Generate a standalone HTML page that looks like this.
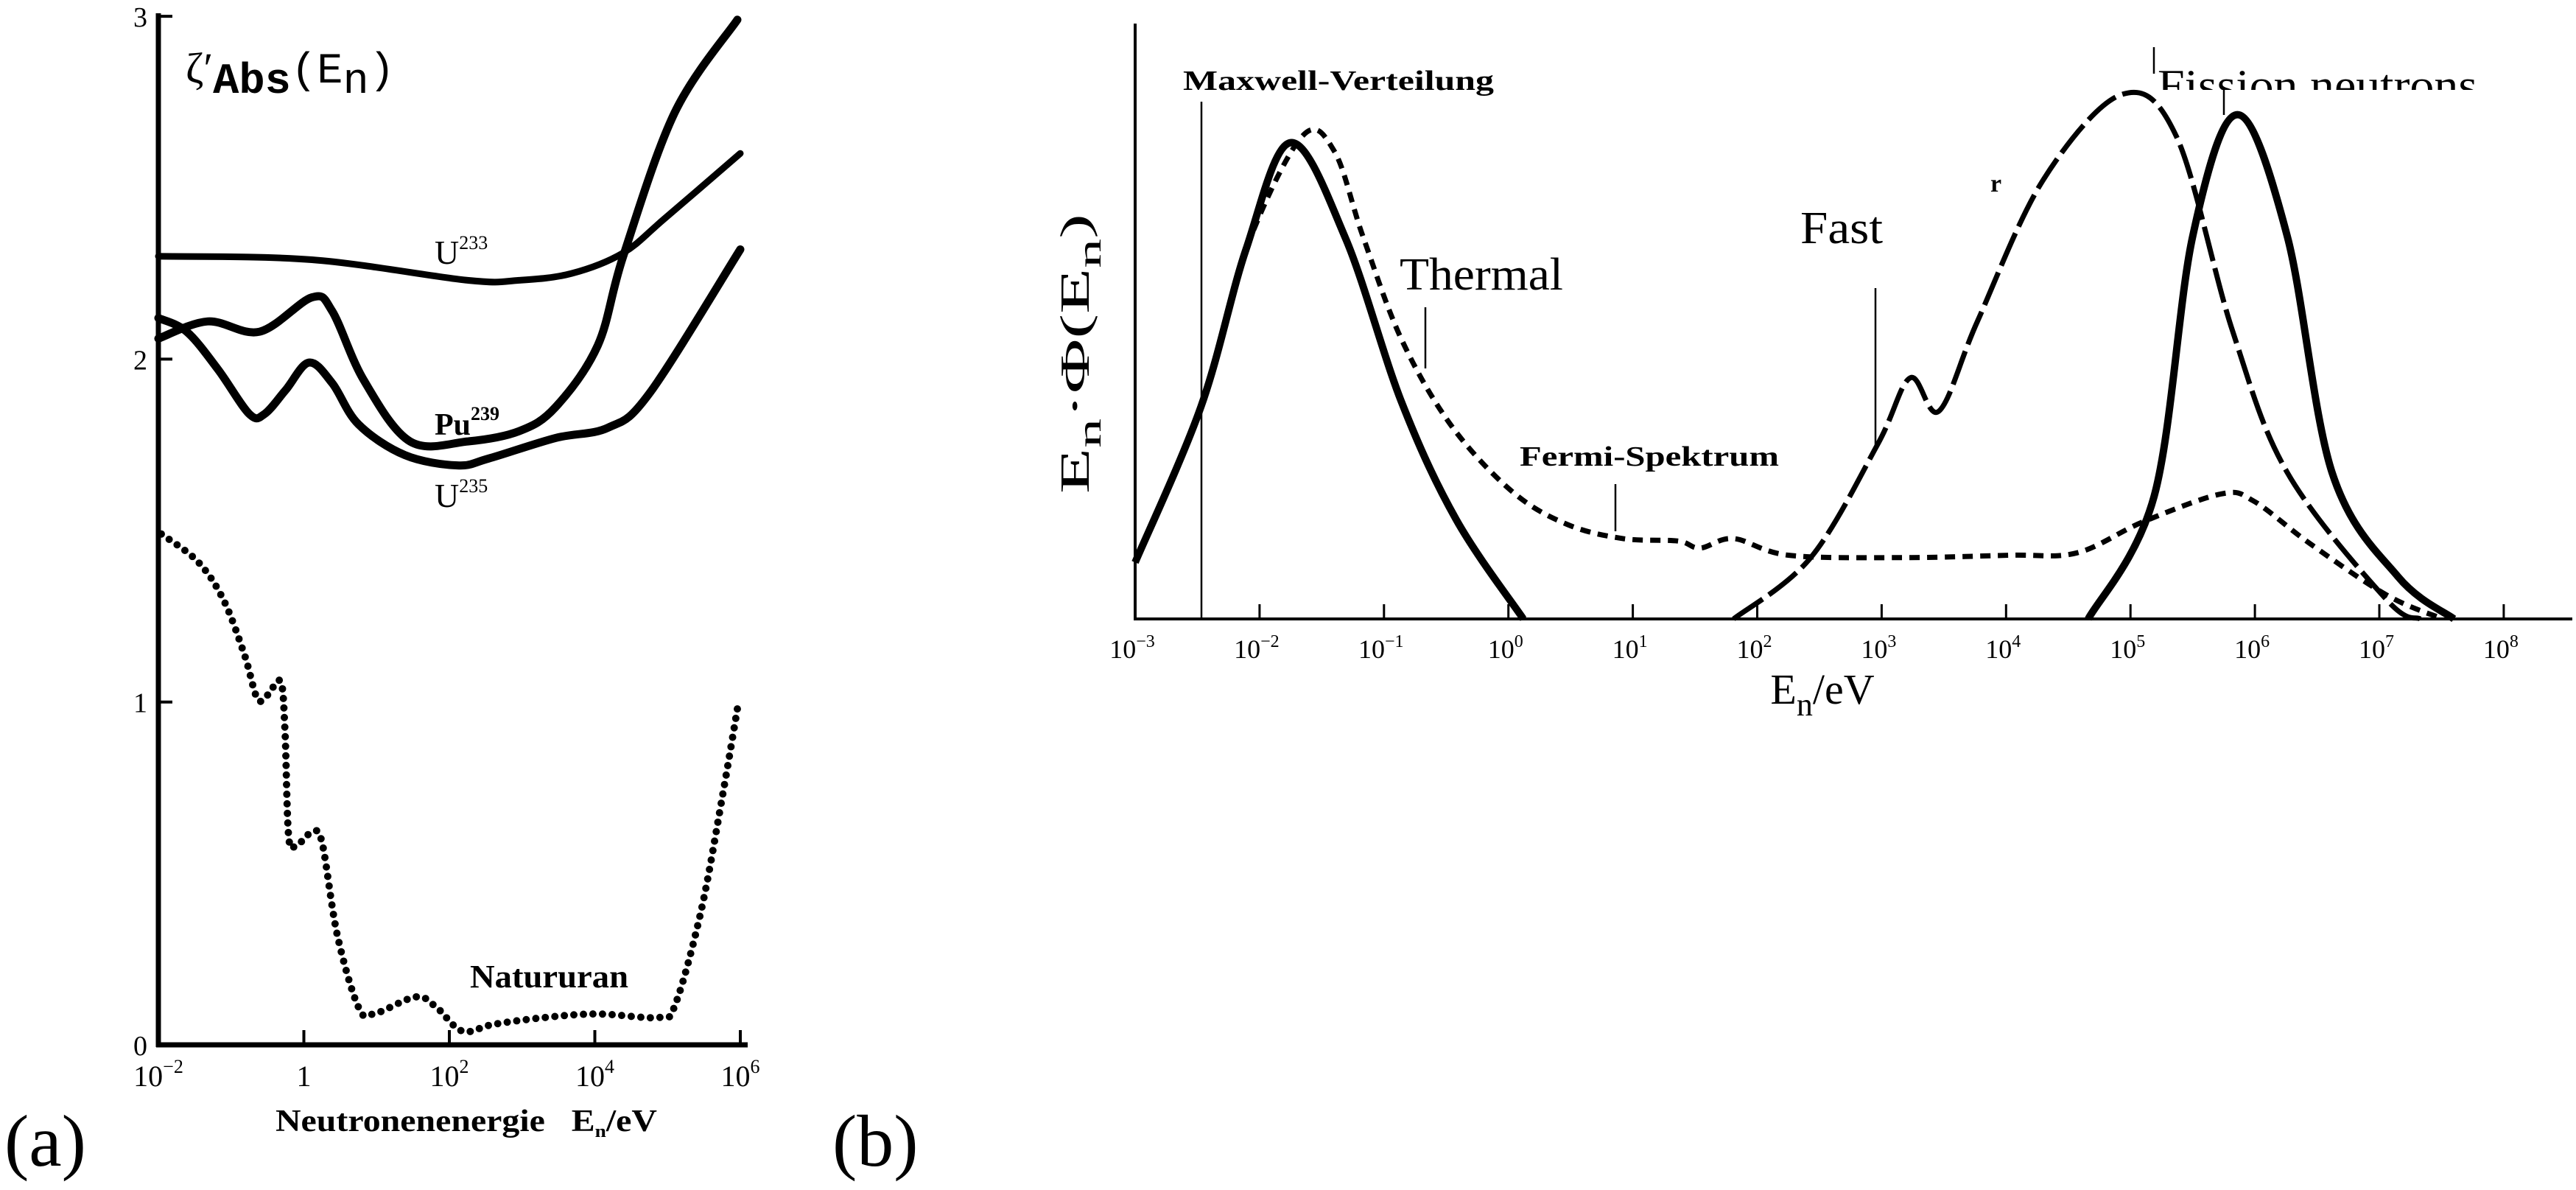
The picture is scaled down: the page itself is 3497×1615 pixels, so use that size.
<!DOCTYPE html>
<html><head><meta charset="utf-8"><style>
html,body{margin:0;padding:0;background:#fff;}
svg{display:block;}
text{font-family:"Liberation Serif",serif;fill:#000;}
</style></head><body>
<svg id="fig" width="3497" height="1615" viewBox="0 0 3497 1615" xmlns="http://www.w3.org/2000/svg">
<g id="pa"></g>
<g id="pb"></g>
</svg>
<script>
// ---- Panel (a) data: x = log10(E/eV), y = zeta'
const u233X=[-2,0.11,2.25,2.96,3.68,4.39,4.96,6];
const u233Y=[2.3,2.29,2.23,2.23,2.25,2.31,2.41,2.6];
const pu239X=[-2,-1.32,-0.61,0.11,0.39,0.82,1.46,2.25,2.96,3.46,4.04,4.39,5.1,5.96];
const pu239Y=[2.06,2.11,2.08,2.18,2.14,1.94,1.76,1.76,1.79,1.86,2.04,2.3,2.72,2.99];
const u235X=[-2,-1.61,-1.18,-0.75,-0.54,-0.25,0.07,0.39,0.75,1.39,2.11,2.54,3.46,4.18,4.75,6];
const u235Y=[2.12,2.08,1.97,1.84,1.84,1.91,1.99,1.93,1.81,1.72,1.69,1.71,1.77,1.8,1.9,2.32];
const natX=[-1.96,-1.46,-1.11,-0.82,-0.64,-0.5,-0.32,-0.26,-0.21,-0.11,0.11,0.25,0.46,0.75,0.96,1.54,1.82,2.18,2.61,3.32,4.04,4.89,5.11,5.46,5.75,5.96];
const natY=[1.49,1.41,1.3,1.14,1.01,1.02,1.06,0.92,0.61,0.58,0.62,0.59,0.32,0.11,0.09,0.14,0.11,0.04,0.06,0.08,0.09,0.08,0.12,0.39,0.72,0.98];
const aXTicks=[-2,0,2,4,6];
const aXLabels=["10","1","10","10","10"];
const aXSup=["−2","","2","4","6"];
const aYTicks=[0,1,2,3];
// ---- Panel (b) data: x = log10(E/eV), y = relative flux
const maxX=[-3,-2.47,-2.11,-1.75,-1.31,-0.86,-0.42,0.12];
const maxY=[0.095,0.357,0.62,0.80,0.64,0.365,0.167,0];
const thermX=[-3,-2.47,-2.11,-1.66,-1.40,-1.17,-0.86,-0.46,0.03,0.47,0.92,1.36,1.54,1.81,2.25,3.14,4.03,4.57,5.1,5.73,5.99,6.44,7.06,7.51];
const thermY=[0.095,0.36,0.62,0.81,0.786,0.643,0.47,0.325,0.214,0.159,0.135,0.131,0.119,0.135,0.107,0.103,0.107,0.111,0.163,0.21,0.198,0.127,0.04,0];
const fermiX=[1.81,2.43,2.97,3.23,3.46,3.77,4.3,4.93,5.37,5.82,6.26,7.06,7.33];
const fermiY=[0,0.103,0.294,0.405,0.349,0.5,0.738,0.881,0.81,0.484,0.246,0.032,0];
const fissX=[4.66,5.19,5.5,5.86,6.26,6.62,7.15,7.6];
const fissY=[0,0.206,0.643,0.847,0.643,0.246,0.071,0];
const bXTicks=[-3,-2,-1,0,1,2,3,4,5,6,7,8];
const bXSup=["−3","−2","−1","0","1","2","3","4","5","6","7","8"];

const NS="http://www.w3.org/2000/svg";
function mk(tag,attrs,parent){const e=document.createElementNS(NS,tag);for(const k in attrs)e.setAttribute(k,attrs[k]);parent.appendChild(e);return e;}
function smooth(pts){let d="M"+pts[0][0].toFixed(1)+","+pts[0][1].toFixed(1);
 for(let i=0;i<pts.length-1;i++){const p0=pts[i-1]||pts[i],p1=pts[i],p2=pts[i+1],p3=pts[i+2]||p2;
  const c1=[p1[0]+(p2[0]-p0[0])/6,p1[1]+(p2[1]-p0[1])/6],c2=[p2[0]-(p3[0]-p1[0])/6,p2[1]-(p3[1]-p1[1])/6];
  d+=" C"+c1[0].toFixed(1)+","+c1[1].toFixed(1)+" "+c2[0].toFixed(1)+","+c2[1].toFixed(1)+" "+p2[0].toFixed(1)+","+p2[1].toFixed(1);}
 return d;}
function lab(parent,x,y,txt,size,opts,name){const t=mk('text',Object.assign({x:x,y:y,'font-size':size},opts||{}),parent);t.innerHTML=txt;return t;}

// ---------- Panel a ----------
const pa=document.getElementById('pa');
const ax=v=>215+(v+2)*98.75, ay=v=>1418-v*465.3;
let e;
e=mk('line',{x1:215,y1:18,x2:215,y2:1421,stroke:'#000','stroke-width':7},pa);

e=mk('line',{x1:212,y1:1418,x2:1015,y2:1418,stroke:'#000','stroke-width':7},pa);

aXTicks.forEach((t,i)=>{
 e=mk('line',{x1:ax(t),y1:1418,x2:ax(t),y2:1398,stroke:'#000','stroke-width':4},pa);
 
 e=mk('text',{x:ax(t),y:1474,'text-anchor':'middle','font-size':40},pa);
 
 e.textContent=aXLabels[i];
 if(aXSup[i]){const s=mk('tspan',{'font-size':26,dy:-18},e);s.textContent=aXSup[i];}
});
aYTicks.forEach(t=>{
 e=mk('line',{x1:215,y1:ay(t),x2:234,y2:ay(t),stroke:'#000','stroke-width':4},pa);
 
 e=mk('text',{x:200,y:ay(t)+14,'text-anchor':'end','font-size':38},pa);
 
 e.textContent=t;
});
function seriesA(X,Y,name,w,dash){const d=smooth(X.map((x,i)=>[ax(x),ay(Y[i])]));
 const a={d:d,fill:'none',stroke:'#000','stroke-width':w,'stroke-linecap':'round','stroke-linejoin':'round'};
 if(dash)a['stroke-dasharray']=dash;
 const p=mk('path',a,pa);}
seriesA(u233X,u233Y,'u233-curve',9);
seriesA(pu239X,pu239Y,'pu239-curve',11);
seriesA(u235X,u235Y,'u235-curve',11);
seriesA(natX,natY,'natururan-curve',10,'0 13');

lab(pa,252,112,'ζ\u2032<tspan dy="14" font-family="Liberation Mono" font-weight="bold">Abs</tspan><tspan dy="-14" font-family="Liberation Mono">(E</tspan><tspan dy="14" font-family="Liberation Mono">n</tspan><tspan dy="-14" font-family="Liberation Mono">)</tspan>',58,{textLength:284,lengthAdjust:'spacingAndGlyphs'}, 'a-y-axis-title');
lab(pa,590,358,'U<tspan font-size="26" dy="-20">233</tspan>',46,{},'u233-label');
lab(pa,590,590,'Pu<tspan font-size="26" dy="-20">239</tspan>',42,{'font-weight':'bold'},'pu239-label');
lab(pa,590,688,'U<tspan font-size="26" dy="-20">235</tspan>',46,{},'u235-label');
lab(pa,638,1340,'Natururan',44,{'font-weight':'bold',textLength:215,lengthAdjust:'spacingAndGlyphs'},'natururan-label');
lab(pa,374,1535,'Neutronenenergie&#160;&#160;&#160;E<tspan font-size="24" dy="8">n</tspan><tspan dy="-8">/eV</tspan>',42,{'font-weight':'bold',textLength:518,lengthAdjust:'spacingAndGlyphs'},'a-x-axis-title');
lab(pa,6,1582,'(a)',100,{},'panel-a-label');

// ---------- Panel b ----------
const pb=document.getElementById('pb');
const bx=v=>1541+(v+3)*168.9, by=v=>840-v*808;
e=mk('line',{x1:1541,y1:32,x2:1541,y2:842,stroke:'#000','stroke-width':4},pb);

e=mk('line',{x1:1539,y1:840,x2:3492,y2:840,stroke:'#000','stroke-width':4},pb);

bXTicks.forEach((t,i)=>{
 e=mk('line',{x1:bx(t),y1:840,x2:bx(t),y2:820,stroke:'#000','stroke-width':3},pb);
 
 e=mk('text',{x:bx(t)-4,y:893,'text-anchor':'middle','font-size':36},pb);
 
 e.textContent='10';
 const s=mk('tspan',{'font-size':24,dy:-15},e);s.textContent=bXSup[i];
});
function seriesB(X,Y,name,w,dash){const d=smooth(X.map((x,i)=>[bx(x),by(Y[i])]));
 const a={d:d,fill:'none',stroke:'#000','stroke-width':w,'stroke-linecap':'butt','stroke-linejoin':'round'};
 if(dash)a['stroke-dasharray']=dash;
 const p=mk('path',a,pb);}
seriesB(thermX,thermY,'thermal-curve',7,'14 10');
seriesB(fermiX,fermiY,'fermi-curve',7,'48 10');
seriesB(maxX,maxY,'maxwell-curve',10);
seriesB(fissX,fissY,'fission-curve',10);
function ln(x1,y1,x2,y2,name){const l=mk('line',{x1:x1,y1:y1,x2:x2,y2:y2,stroke:'#000','stroke-width':2.5},pb);}
ln(1631,138,1631,840,'maxwell-leader');
ln(1935,417,1935,500,'thermal-leader');
ln(2546,391,2546,606,'fast-leader');
ln(2193,657,2193,721,'fermi-leader');
ln(3019,122,3019,156,'fission-leader');
ln(2924,64,2924,100,'fission-mark');
lab(pb,1606,122,'Maxwell-Verteilung',38,{'font-weight':'bold',textLength:422,lengthAdjust:'spacingAndGlyphs'},'maxwell-label');
lab(pb,1900,393,'Thermal',62,{textLength:222,lengthAdjust:'spacingAndGlyphs'},'thermal-label');
lab(pb,2444,330,'Fast',62,{textLength:112,lengthAdjust:'spacingAndGlyphs'},'fast-label');
lab(pb,2702,260,'r',34,{'font-weight':'bold'},'r-label');
lab(pb,2063,632,'Fermi-Spektrum',38,{'font-weight':'bold',textLength:352,lengthAdjust:'spacingAndGlyphs'},'fermi-label');
const cp=mk('clipPath',{id:'fclip'},pb);mk('rect',{x:2900,y:0,width:600,height:122},cp);
lab(pb,2929,136,'Fission neutrons',60,{textLength:434,lengthAdjust:'spacingAndGlyphs','clip-path':'url(#fclip)'},'fission-label');
lab(pb,0,0,'E<tspan dy="16" font-size="44">n</tspan><tspan dy="-16">·Φ(E</tspan><tspan dy="16" font-size="44">n</tspan><tspan dy="-16">)</tspan>',56,{'font-family':'Liberation Mono','text-anchor':'middle',textLength:380,lengthAdjust:'spacingAndGlyphs',transform:'translate(1478,480) rotate(-90)'},'b-y-axis-title');
lab(pb,2474,955,'E<tspan dy="16" font-size="44">n</tspan><tspan dy="-16">/eV</tspan>',58,{'font-family':'Liberation Mono','text-anchor':'middle'},'b-x-axis-title');
lab(pb,1130,1582,'(b)',100,{},'panel-b-label');
</script>
</body></html>
